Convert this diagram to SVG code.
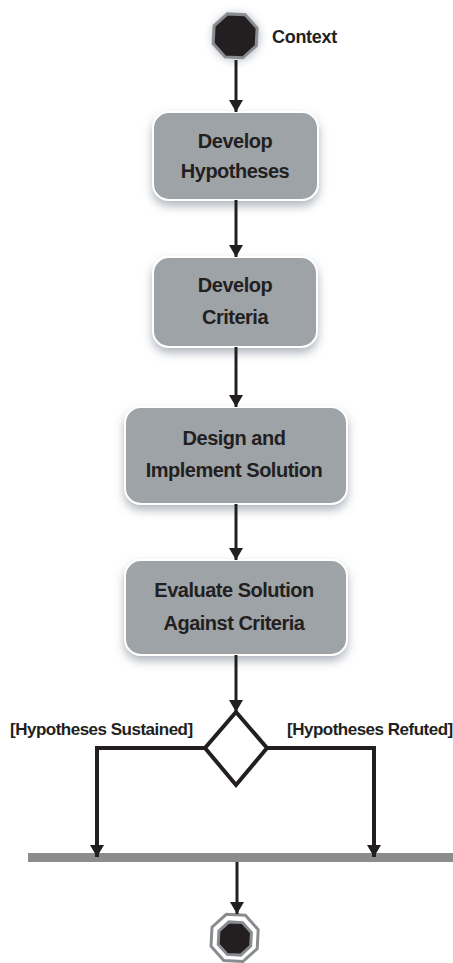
<svg xmlns="http://www.w3.org/2000/svg" width="453" height="963" viewBox="0 0 453 963">
<defs>
<style>
.box{fill:#9ea3a8;stroke:#ffffff;stroke-width:2;filter:url(#sh)}
.t{font-family:"Liberation Sans",Arial,sans-serif;font-weight:bold;font-size:20px;fill:#231f20;text-anchor:middle;letter-spacing:-0.5px}
.lbl{font-family:"Liberation Sans",Arial,sans-serif;font-weight:bold;font-size:17px;fill:#231f20;letter-spacing:-0.5px}
.c{stroke:#231f20;stroke-width:3;fill:none}
</style>
<filter id="sh" x="-20%" y="-20%" width="140%" height="150%">
<feDropShadow dx="0" dy="5" stdDeviation="5" flood-color="#6f7a88" flood-opacity="0.55"/>
</filter>
<filter id="glow" x="-50%" y="-50%" width="200%" height="200%">
<feGaussianBlur stdDeviation="4"/>
</filter>
<marker id="ah" markerWidth="12" markerHeight="14" refX="12" refY="7" orient="auto" markerUnits="userSpaceOnUse" viewBox="0 0 12 14">
<path d="M0,0 L12,7 L0,14 z" fill="#231f20"/>
</marker>
</defs>
<rect width="453" height="963" fill="#ffffff"/>

<g id="start">
<circle cx="236" cy="37" r="24" fill="#7b8494" opacity="0.5" filter="url(#glow)"/>
<polygon points="245.2,14.8 257.1,28.1 256.2,45.9 242.9,57.8 225.1,56.9 213.2,43.6 214.1,25.8 227.4,13.9" fill="#231f20" stroke="#8a8d90" stroke-width="3"/>
<text class="lbl" x="272" y="43" style="font-size:18px;letter-spacing:-0.3px">Context</text>
</g>

<g id="n1">
<rect class="box" x="153" y="112" width="165" height="88" rx="16"/>
<text class="t" x="235" y="148">Develop</text>
<text class="t" x="235" y="178">Hypotheses</text>
</g>

<g id="n2">
<rect class="box" x="153" y="257" width="164" height="90" rx="16"/>
<text class="t" x="235" y="292">Develop</text>
<text class="t" x="235" y="324">Criteria</text>
</g>

<g id="n3">
<rect class="box" x="125" y="407" width="222" height="97" rx="16"/>
<text class="t" x="234" y="445">Design and</text>
<text class="t" x="234" y="477">Implement Solution</text>
</g>

<g id="n4">
<rect class="box" x="125" y="560" width="222" height="95" rx="16"/>
<text class="t" x="234" y="597">Evaluate Solution</text>
<text class="t" x="234" y="630">Against Criteria</text>
</g>

<g id="decision">
<polygon points="236,712 267,748 236,785 205,748" fill="#ffffff" stroke="#231f20" stroke-width="4" stroke-linejoin="miter"/>
</g>

<g id="labels">
<text class="lbl" x="10" y="735">[Hypotheses Sustained]</text>
<text class="lbl" x="287" y="735">[Hypotheses Refuted]</text>
</g>

<g id="join">
<rect x="28" y="853" width="425" height="9" fill="#8a8c8e"/>
</g>

<g id="end">
<polygon points="245.4,915.3 258.2,929.6 257.2,948.7 242.9,961.5 223.8,960.5 211,946.2 212,927.1 226.3,914.3" fill="#ffffff" stroke="#8a8d90" stroke-width="3"/>
<polygon points="242.4,922.6 251.4,932.6 250.7,946.1 240.7,955.1 227.2,954.4 218.2,944.4 218.9,930.9 228.9,921.9" fill="#231f20" stroke="#8a8d90" stroke-width="3"/>
</g>

<g id="connectors">
<line class="c" x1="236" y1="60" x2="236" y2="112" marker-end="url(#ah)"/>
<line class="c" x1="236" y1="200" x2="236" y2="257" marker-end="url(#ah)"/>
<line class="c" x1="236" y1="347" x2="236" y2="407" marker-end="url(#ah)"/>
<line class="c" x1="236" y1="504" x2="236" y2="560" marker-end="url(#ah)"/>
<line class="c" x1="236" y1="655" x2="236" y2="712" marker-end="url(#ah)"/>
<polyline class="c" style="stroke-width:4" points="205,748 97,748 97,857" marker-end="url(#ah)"/>
<polyline class="c" style="stroke-width:4" points="267,748 374,748 374,857" marker-end="url(#ah)"/>
<line class="c" x1="237" y1="862" x2="237" y2="914" marker-end="url(#ah)"/>
</g>
</svg>
